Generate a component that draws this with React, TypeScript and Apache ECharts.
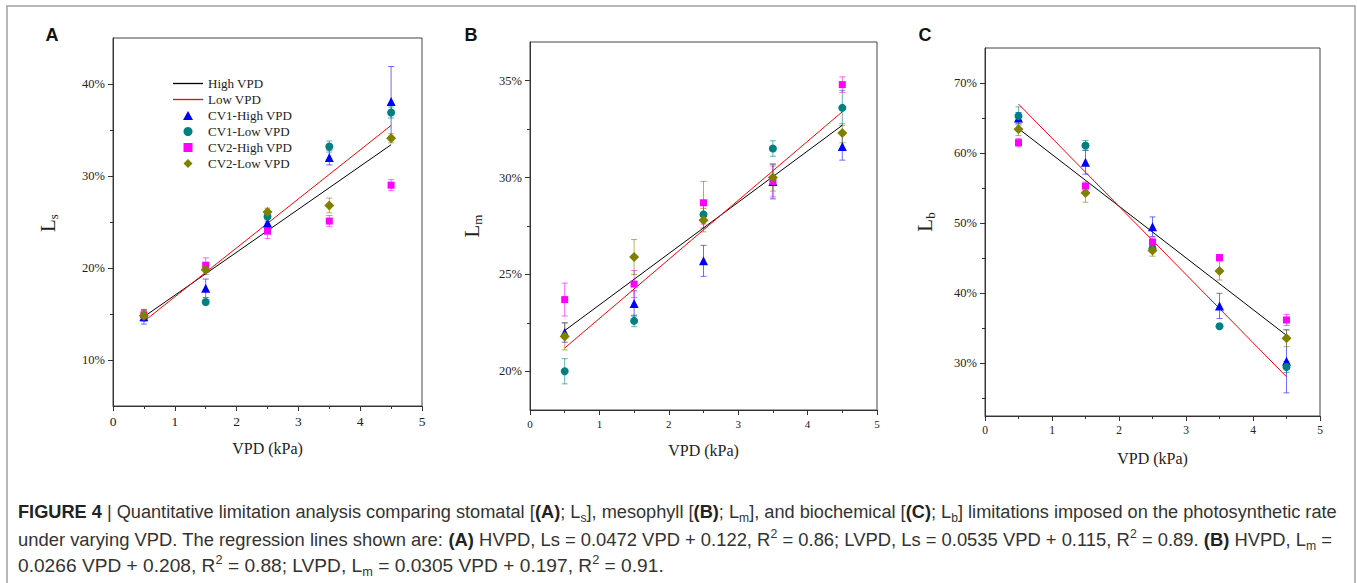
import React, { useEffect, useRef } from "react";
import * as echarts from "echarts";

// ---------- data ----------
const vpd = [0.5, 1.5, 2.5, 3.5, 4.5];
const fitX = [0.5, 4.5];
const xTicks = [0, 1, 2, 3, 4, 5];

// Panel A: Ls (%)
const lsCV1High = [14.7, 17.8, 24.9, 32.0, 38.1];
const lsCV1HighErr = [0.8, 1.0, 0.5, 0.8, 3.8];
const lsCV1Low = [14.8, 16.3, 25.6, 33.2, 36.9];
const lsCV1LowErr = [0.5, 0.3, 0.5, 0.6, 0.6];
const lsCV2High = [14.9, 20.3, 24.0, 25.1, 29.0];
const lsCV2HighErr = [0.5, 0.8, 0.8, 0.6, 0.6];
const lsCV2Low = [14.8, 19.8, 26.1, 26.8, 34.1];
const lsCV2LowErr = [0.6, 0.5, 0.4, 0.8, 0.5];
const lsHighFit = [14.7, 33.4];
const lsLowFit = [14.2, 35.5];
const lsLabels = [10, 20, 30, 40];
const lsMinor = [15, 25, 35];

// Panel B: Lm (%)
const lmCV1High = [22.0, 23.5, 25.7, 29.8, 31.6];
const lmCV1HighErr = [0.5, 0.65, 0.8, 0.9, 0.7];
const lmCV1Low = [20.0, 22.6, 28.1, 31.5, 33.6];
const lmCV1LowErr = [0.65, 0.3, 0.7, 0.4, 0.9];
const lmCV2High = [23.7, 24.5, 28.7, 29.8, 34.8];
const lmCV2HighErr = [0.85, 0.7, 1.1, 0.8, 0.4];
const lmCV2Low = [21.8, 25.9, 27.8, 30.0, 32.3];
const lmCV2LowErr = [0.7, 0.9, 0.6, 0.7, 0.5];
const lmHighFit = [22.1, 32.7];
const lmLowFit = [21.2, 33.4];
const lmLabels = [20, 25, 30, 35];
const lmMinor = [22.5, 27.5, 32.5];

// Panel C: Lb (%)
const lbCV1High = [65.0, 58.7, 49.5, 38.2, 30.3];
const lbCV1HighErr = [0.8, 1.7, 1.4, 1.8, 4.5];
const lbCV1Low = [65.3, 61.1, 46.4, 35.3, 29.5];
const lbCV1LowErr = [1.3, 0.7, 0.5, 0.3, 0.8];
const lbCV2High = [61.5, 55.3, 47.3, 45.1, 36.2];
const lbCV2HighErr = [0.6, 0.6, 0.6, 0.4, 0.8];
const lbCV2Low = [63.4, 54.3, 46.1, 43.2, 33.6];
const lbCV2LowErr = [0.9, 1.3, 0.8, 1.3, 1.2];
const lbHighFit = [63.5, 34.0];
const lbLowFit = [67.0, 28.1];
const lbLabels = [30, 40, 50, 60, 70];
const lbMinor = [25, 35, 45, 55, 65];

const groupNames = ["CV1-High VPD", "CV1-Low VPD", "CV2-High VPD", "CV2-Low VPD"];
const fitNames = ["High VPD", "Low VPD"];

// ---------- styles ----------
const SERIF = "Liberation Serif, Times New Roman, serif";
const SANS = "Liberation Sans, Arial, sans-serif";
const groupColors = ["#0000ff", "#008080", "#ff00ff", "#808000"];
const errColors = ["rgba(60,60,255,0.75)", "rgba(0,128,128,0.6)", "rgba(255,0,255,0.6)", "rgba(128,128,0,0.6)"];
const groupSymbols = ["triangle", "circle", "rect", "diamond"];
const groupSizes = [9, 8, 7, 10];
const legendGroupIcons = ["path://M5,0L10,9L0,9Z", "circle", "path://M0,0H8V8H0Z", "path://M5,0L10,5L5,10L0,5Z"];
const legendLineIcon = "path://M0,0H30V1.3H0Z";
const fitColors = ["#000000", "#ff0000"];

const panels = [
  {
    grid: { left: 113, top: 38, width: 309, height: 368 },
    yMin: 5, yMax: 45, labels: lsLabels, minor: lsMinor,
    groups: [[lsCV1High, lsCV1HighErr], [lsCV1Low, lsCV1LowErr], [lsCV2High, lsCV2HighErr], [lsCV2Low, lsCV2LowErr]],
    fits: [lsHighFit, lsLowFit],
    xFont: 13.5, nameGap: 34,
  },
  {
    grid: { left: 530, top: 42, width: 347, height: 368 },
    yMin: 18, yMax: 37, labels: lmLabels, minor: lmMinor,
    groups: [[lmCV1High, lmCV1HighErr], [lmCV1Low, lmCV1LowErr], [lmCV2High, lmCV2HighErr], [lmCV2Low, lmCV2LowErr]],
    fits: [lmHighFit, lmLowFit],
    xFont: 11, nameGap: 32,
  },
  {
    grid: { left: 985, top: 48, width: 335, height: 368 },
    yMin: 22.5, yMax: 75, labels: lbLabels, minor: lbMinor,
    groups: [[lbCV1High, lbCV1HighErr], [lbCV1Low, lbCV1LowErr], [lbCV2High, lbCV2HighErr], [lbCV2Low, lbCV2LowErr]],
    fits: [lbHighFit, lbLowFit],
    xFont: 11.5, nameGap: 34,
  },
];

const AX = "#333";

function buildOption() {
  const grid: any[] = [];
  const xAxis: any[] = [];
  const yAxis: any[] = [];
  const series: any[] = [];

  panels.forEach((p, i) => {
    grid.push({ ...p.grid, show: true, borderColor: "#444", borderWidth: 1, backgroundColor: "transparent", containLabel: false });
    xAxis.push({
      gridIndex: i, type: "value", min: xTicks[0], max: xTicks[xTicks.length - 1], interval: 1,
      axisLine: { show: true, onZero: false, lineStyle: { color: AX, width: 1 } },
      axisTick: { show: true, length: 5, lineStyle: { color: AX } },
      minorTick: { show: true, splitNumber: 2, length: 3, lineStyle: { color: AX } },
      axisLabel: { fontSize: p.xFont, color: "#222", fontFamily: SERIF, margin: 8 },
      splitLine: { show: false }, minorSplitLine: { show: false },
      name: "VPD (kPa)", nameLocation: "middle", nameGap: p.nameGap,
      nameTextStyle: { fontSize: 16, color: "#222", fontFamily: SERIF },
    });
    yAxis.push({
      gridIndex: i, type: "value", min: p.yMin, max: p.yMax, position: "left",
      axisLine: { show: true, onZero: false, lineStyle: { color: AX, width: 1 } },
      axisTick: { show: true, length: 5, customValues: p.labels, lineStyle: { color: AX } },
      axisLabel: { customValues: p.labels, formatter: "{value}%", fontSize: 12.5, color: "#222", fontFamily: SERIF, margin: 8 },
      splitLine: { show: false },
    });
    yAxis.push({
      gridIndex: i, type: "value", min: p.yMin, max: p.yMax, position: "left",
      axisLine: { show: false },
      axisTick: { show: true, length: 3, customValues: p.minor, lineStyle: { color: AX } },
      axisLabel: { show: false },
      splitLine: { show: false },
    });

    p.groups.forEach(([vals, errs], g) => {
      series.push({
        type: "custom", name: `err-${i}-${g}`, xAxisIndex: i, yAxisIndex: i * 2, silent: true, z: 2,
        data: vpd.map((x, k) => [x, vals[k], errs[k]]),
        encode: { x: 0, y: 1 },
        renderItem: (params: any, api: any) => {
          const x = api.value(0), y = api.value(1), e = api.value(2);
          const top = api.coord([x, y + e]);
          const bot = api.coord([x, y - e]);
          const st = { stroke: errColors[g], lineWidth: 1 };
          return {
            type: "group",
            children: [
              { type: "line", shape: { x1: top[0], y1: top[1], x2: bot[0], y2: bot[1] }, style: st },
              { type: "line", shape: { x1: top[0] - 3, y1: top[1], x2: top[0] + 3, y2: top[1] }, style: st },
              { type: "line", shape: { x1: bot[0] - 3, y1: bot[1], x2: bot[0] + 3, y2: bot[1] }, style: st },
            ],
          };
        },
      });
    });
    p.fits.forEach((f, k) => {
      series.push({
        type: "line", name: fitNames[k], xAxisIndex: i, yAxisIndex: i * 2, z: 4,
        data: fitX.map((x, j) => [x, f[j]]), symbol: "none",
        lineStyle: { color: fitColors[k], width: 1 }, itemStyle: { color: fitColors[k] },
      });
    });
    p.groups.forEach(([vals], g) => {
      series.push({
        type: "scatter", name: groupNames[g], xAxisIndex: i, yAxisIndex: i * 2, z: 5,
        data: vpd.map((x, k) => [x, vals[k]]),
        symbol: groupSymbols[g], symbolSize: groupSizes[g],
        itemStyle: { color: groupColors[g], opacity: 1 },
      });
    });
  });

  const yTitles = [
    { x: 48, y: 223, sub: "s" },
    { x: 472, y: 226, sub: "m" },
    { x: 925, y: 222, sub: "b" },
  ];
  const letters = [
    { x: 52, y: 35, t: "A" },
    { x: 471, y: 35, t: "B" },
    { x: 925, y: 35, t: "C" },
  ];
  const captionLines = [
    "{b|FIGURE 4} | Quantitative limitation analysis comparing stomatal [{b|(A)}; L{s|s}], mesophyll [{b|(B)}; L{s|m}], and biochemical [{b|(C)}; L{s|b}] limitations imposed on the photosynthetic rate",
    "under varying VPD. The regression lines shown are: {b|(A)} HVPD, Ls = 0.0472 VPD + 0.122, R{p|2} = 0.86; LVPD, Ls = 0.0535 VPD + 0.115, R{p|2} = 0.89. {b|(B)} HVPD, L{s|m} =",
    "0.0266 VPD + 0.208, R{p|2} = 0.88; LVPD, L{s|m} = 0.0305 VPD + 0.197, R{p|2} = 0.91.",
  ];
  const captionY = [512, 540, 566];
  const captionScaleX = [1.01, 1.022, 1.064];

  const graphic: any[] = [
    { type: "rect", shape: { x: 7, y: 6, width: 1348, height: 700 }, style: { fill: "none", stroke: "#a0a0a0", lineWidth: 1.5 }, silent: true },
    ...letters.map((l) => ({
      type: "text", x: l.x, y: l.y,
      style: { text: l.t, fontFamily: SANS, fontWeight: "bold", fontSize: 18, fill: "#111", align: "center", verticalAlign: "middle" },
    })),
    ...yTitles.map((t) => ({
      type: "text", x: t.x, y: t.y, rotation: Math.PI / 2,
      style: {
        text: `{m|L}{s|${t.sub}}`, align: "center", verticalAlign: "middle", fill: "#222", fontFamily: SERIF,
        rich: {
          m: { fontSize: 21, lineHeight: 24, fontFamily: SERIF, fill: "#222" },
          s: { fontSize: 13, lineHeight: 13, verticalAlign: "bottom", fontFamily: SERIF, fill: "#222" },
        },
      },
    })),
    ...captionLines.map((txt, k) => ({
      type: "text", x: 18, y: captionY[k], scaleX: captionScaleX[k],
      style: {
        text: txt, align: "left", verticalAlign: "middle", fill: "#333", fontFamily: SANS, fontSize: 18, lineHeight: 24,
        rich: {
          b: { fontWeight: "bold", fontSize: 18, fontFamily: SANS, fill: "#222", lineHeight: 24 },
          s: { fontSize: 12, lineHeight: 13, verticalAlign: "bottom", fontFamily: SANS, fill: "#333" },
          p: { fontSize: 12, lineHeight: 13, verticalAlign: "top", fontFamily: SANS, fill: "#333" },
        },
      },
    })),
  ];

  return {
    animation: false,
    backgroundColor: "#ffffff",
    textStyle: { fontFamily: SERIF },
    legend: {
      left: 173, top: 77, padding: 0, orient: "vertical", itemWidth: 30, itemHeight: 9, itemGap: 3,
      selectedMode: false,
      data: [
        ...fitNames.map((n, k) => ({ name: n, icon: legendLineIcon, itemStyle: { color: fitColors[k] } })),
        ...groupNames.map((n, g) => ({ name: n, icon: legendGroupIcons[g], itemStyle: { color: groupColors[g] } })),
      ],
      textStyle: { fontFamily: SERIF, fontSize: 13, color: "#222" },
    },
    grid, xAxis, yAxis, series, graphic,
  };
}

export default function App() {
  const ref = useRef<HTMLDivElement>(null);
  useEffect(() => {
    if (!ref.current) return;
    const chart = echarts.init(ref.current, undefined, { renderer: "svg" });
    chart.setOption(buildOption() as any);
    return () => chart.dispose();
  }, []);
  return (
    <div
      ref={ref}
      style={{ position: "absolute", left: 0, top: 0, width: 1357, height: 583, background: "#fff" }}
    />
  );
}
